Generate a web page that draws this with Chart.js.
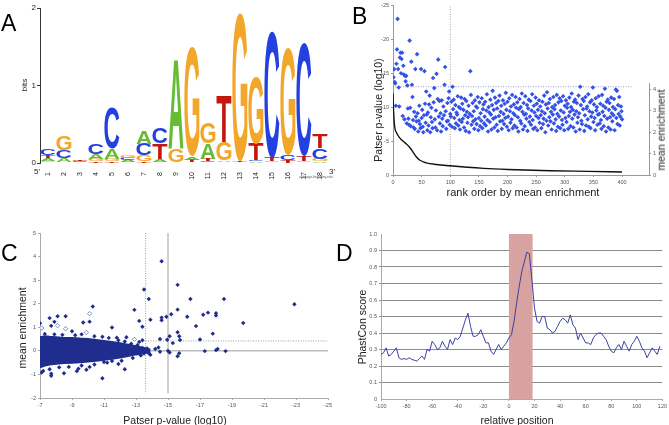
<!DOCTYPE html>
<html>
<head>
<meta charset="utf-8">
<script src="https://cdn.jsdelivr.net/npm/chart.js@4.4.1/dist/chart.umd.min.js"></script>
<style>
body { margin: 0; background: #fff; font-family: "Liberation Sans", Arial, sans-serif; }
#page { position: relative; width: 669px; height: 425px; overflow: hidden; background: #fff; }
canvas { position: absolute; }
.txt { position: absolute; white-space: nowrap; color: #222; line-height: 1; transform: translate(-50%, -50%); }
.rot { transform: translate(-50%, -50%) rotate(-90deg); }
.panel { position: absolute; font-size: 23px; line-height: 1; color: #000; }
</style>
</head>
<body>
<div id="page">
  <canvas id="chartA" width="345" height="190" style="left:0;top:0"></canvas>
  <canvas id="chartB" width="324" height="205" style="left:345px;top:0"></canvas>
  <canvas id="chartC" width="340" height="215" style="left:0;top:210px"></canvas>
  <canvas id="chartD" width="329" height="215" style="left:340px;top:210px"></canvas>

  <div class="panel" style="left:1px;top:12px">A</div>
  <div class="panel" style="left:352px;top:5px">B</div>
  <div class="panel" style="left:1px;top:242px">C</div>
  <div class="panel" style="left:336px;top:242px">D</div>

  <div class="txt rot" style="left:25px;top:85px;font-size:8px">bits</div>
  <div class="txt" style="left:37px;top:172px;font-size:8px">5'</div>
  <div class="txt" style="left:332px;top:172px;font-size:8px">3'</div>
  <div class="txt" style="left:316px;top:178px;font-size:3.5px;color:#666">weblogo.berkeley.edu</div>

  <div class="txt rot" style="left:378px;top:110px;font-size:10.5px">Patser p-value (log10)</div>
  <div class="txt" style="left:523px;top:192px;font-size:11px">rank order by mean enrichment</div>
  <div class="txt rot" style="left:661px;top:130px;font-size:10.5px">mean enrichment</div>

  <div class="txt rot" style="left:22px;top:328px;font-size:10.5px">mean enrichment</div>
  <div class="txt" style="left:175px;top:420px;font-size:10.5px">Patser p-value (log10)</div>

  <div class="txt rot" style="left:362px;top:327px;font-size:10.5px">PhastCon score</div>
  <div class="txt" style="left:517px;top:420px;font-size:10.5px">relative position</div>
</div>

<script>
// ---- A: motif logo, information content (bits) per letter and position
var logoPositions = ['1', '2', '3', '4', '5', '6', '7', '8', '9', '10', '11', '12', '13', '14', '15', '16', '17', '18'];
var bitsA = [0.04, 0.05, 0.01, 0.07, 0.13, 0.03, 0.17, 0.04, 1.16, 0.04, 0.20, 0.02, 0.01, 0.02, 0.00, 0.00, 0.01, 0.02];
var bitsC = [0.08, 0.10, 0.01, 0.13, 0.52, 0.03, 0.15, 0.21, 0.00, 0.01, 0.02, 0.01, 0.00, 0.02, 1.63, 0.06, 1.47, 0.14];
var bitsG = [0.02, 0.18, 0.01, 0.03, 0.03, 0.03, 0.08, 0.01, 0.18, 1.41, 0.27, 0.24, 1.90, 0.86, 0.02, 1.38, 0.02, 0.03];
var bitsT = [0.04, 0.01, 0.01, 0.02, 0.02, 0.01, 0.02, 0.20, 0.00, 0.03, 0.03, 0.60, 0.02, 0.21, 0.05, 0.04, 0.06, 0.18];

// ---- B: Patser p-value (log10) for ranks 1..400, and mean enrichment curve
var pValB = [
  -14.4, -15.6, -13.7, -13.5, -10.2, -16.4, -18.5, -23.0, -15.6, -12.9, -10.1, -17.3, -18.0, -15.0, -17.1, -18.0, -8.7, -16.1, -14.8, -8.2,
  -14.6, -13.8, -14.6, -7.6, -13.2, -9.8, -8.3, -7.4, -19.8, -9.9, -7.2, -16.7, -13.3, -11.5, -8.1, -7.0, -9.3, -6.8, -15.6, -8.6,
  -7.9, -17.8, -9.1, -6.4, -8.0, -10.2, -7.5, -6.9, -15.6, -8.4, -9.6, -7.1, -6.3, -8.8, -15.3, -10.5, -7.7, -12.3, -8.9, -6.6,
  -9.2, -7.3, -10.4, -11.7, -6.3, -8.5, -9.9, -7.8, -6.9, -14.3, -10.7, -12.8, -8.2, -7.0, -9.5, -14.9, -6.6, -11.2, -17.0, -8.6,
  -10.9, -7.6, -9.1, -6.4, -11.0, -8.3, -7.2, -10.1, -8.8, -13.3, -15.9, -9.4, -6.8, -7.9, -10.6, -8.0, -11.3, -12.3, -7.4, -9.0,
  -8.6, -10.8, -7.1, -13.0, -9.7, -11.1, -8.4, -6.9, -10.3, -7.6, -9.2, -8.9, -11.6, -7.3, -10.0, -8.1, -6.7, -9.8, -11.4, -7.8,
  -10.5, -8.3, -9.6, -7.0, -11.2, -8.8, -6.5, -10.9, -9.3, -7.7, -8.5, -10.2, -6.3, -9.0, -15.3, -11.8, -7.4, -8.7, -10.6, -7.9,
  -9.4, -6.8, -11.0, -8.2, -10.1, -7.5, -9.9, -11.5, -6.6, -8.4, -10.7, -7.2, -9.1, -8.0, -11.3, -6.9, -9.7, -10.4, -7.6, -8.6,
  -10.8, -7.3, -9.5, -11.9, -8.1, -6.4, -10.0, -9.2, -7.8, -11.1, -8.9, -6.7, -10.3, -12.4, -8.3, -9.6, -7.0, -11.4, -8.5, -10.6,
  -7.4, -9.8, -6.5, -10.9, -8.7, -11.7, -7.9, -9.3, -10.2, -6.8, -8.0, -11.0, -9.0, -7.5, -10.5, -8.4, -12.1, -9.6, -7.1, -10.8,
  -8.6, -6.6, -11.3, -9.4, -7.7, -10.1, -8.2, -11.8, -6.9, -9.1, -10.4, -7.3, -8.8, -11.5, -9.9, -7.0, -10.7, -8.5, -6.4, -9.7,
  -11.2, -8.0, -10.0, -7.6, -12.0, -9.3, -6.7, -10.6, -8.9, -7.2, -11.6, -9.0, -8.3, -10.3, -6.5, -9.8, -11.1, -7.8, -8.6, -10.9,
  -7.4, -9.5, -11.9, -8.1, -6.8, -10.2, -9.2, -7.0, -11.4, -8.7, -10.5, -6.6, -9.6, -8.4, -11.0, -7.7, -10.1, -8.8, -6.9, -9.4,
  -10.8, -7.5, -8.3, -11.7, -9.1, -6.3, -10.4, -8.0, -12.2, -9.8, -7.3, -10.6, -8.5, -11.2, -7.9, -9.3, -6.7, -10.0, -8.9, -11.5,
  -7.6, -9.7, -10.3, -8.2, -6.5, -11.8, -9.0, -7.1, -10.7, -8.6, -11.3, -6.9, -9.5, -10.9, -8.1, -7.4, -11.6, -9.2, -6.6, -10.2,
  -8.4, -11.0, -7.8, -9.9, -10.5, -6.8, -8.7, -11.4, -9.3, -7.2, -10.0, -12.0, -8.3, -9.6, -7.0, -10.8, -8.9, -11.1, -6.4, -9.4,
  -10.6, -7.7, -8.5, -11.7, -9.1, -6.7, -13.0, -10.3, -8.0, -7.5, -11.2, -9.7, -10.9, -6.5, -8.8, -11.5, -7.3, -9.8, -10.1, -8.2,
  -11.9, -7.1, -9.4, -10.7, -6.9, -8.6, -11.0, -9.2, -12.9, -7.8, -10.4, -8.4, -6.6, -11.3, -9.5, -10.0, -7.4, -8.9, -11.6, -9.0,
  -7.6, -10.5, -8.1, -6.8, -11.8, -9.3, -10.2, -7.2, -8.7, -12.7, -9.9, -6.4, -10.8, -8.3, -11.1, -7.0, -9.6, -10.6, -8.5, -6.7,
  -11.4, -9.1, -7.9, -10.0, -8.8, -11.2, -6.6, -9.7, -12.6, -8.4, -12.4, -7.5, -10.3, -9.0, -11.5, -7.3, -8.6, -10.1, -9.4, -8.2
];
var enrichRank = [0, 1, 3, 6, 12, 20, 29, 35, 41, 47, 58, 76, 99, 130, 158, 200, 275, 340, 400];
var enrichVal = [3.83, 3.0, 2.25, 1.99, 1.73, 1.53, 1.30, 1.07, 0.84, 0.69, 0.57, 0.49, 0.43, 0.36, 0.31, 0.26, 0.20, 0.17, 0.14];
var pCutB = -13;
var rankCutB = 100;

// ---- C: mean enrichment vs Patser p-value
var cloudX = [-7, -7.3, -7.6, -8, -8.5, -9, -9.5, -10, -10.5, -11, -11.5, -12, -12.5, -13, -13.5, -13.9];
var cloudTop = [0.58, 0.62, 0.6, 0.58, 0.55, 0.55, 0.52, 0.5, 0.46, 0.42, 0.38, 0.32, 0.26, 0.2, 0.12, 0.05];
var cloudBottom = [-0.7, -0.62, -0.58, -0.55, -0.52, -0.5, -0.48, -0.45, -0.42, -0.38, -0.34, -0.28, -0.22, -0.15, -0.1, -0.04];
var siteX = [
  -14.6, -15.6, -13.5, -13.8, -16.4, -18.5, -22.9, -10.3, -12.9, -15.6, -15.2, -14.9, -14.6, -14.6, -13.9, -13.2, -13.4, -16.2, -17.2, -17.5,
  -18.0, -18.0, -16.75, -19.7, -15.6, -17.8, -17.0, -15.75, -15.7, -15.1, -15.3, -14.95, -14.5, -13.4, -13.2, -13.7, -14.2, -13.5, -14.4, -14.5,
  -15.0, -15.1, -15.7, -15.6, -17.3, -18.0, -18.1, -18.6, -13.9, -13.6, -11.8, -12.4, -11.5, -9.7, -10.1, -7.0, -7.6, -8.1, -8.6, -7.9,
  -7.7, -9.0, -7.7, -7.7, -7.1, -8.5, -10.9, -12.3, -11.9, -9.9, -9.4, -9.3, -10.1, -11.0, -11.5,
  -7.3, -7.9, -8.4, -9.2, -9.6, -10.4, -10.9, -11.3, -11.9, -12.3, -12.7, -13.1, -13.4, -7.2, -7.6, -8.2, -8.8, -9.6, -10.4, -11.2,
  -12.1, -12.8, -13.3, -13.8, -12.6, -13.0, -12.9
];
var siteY = [
  3.8, 2.8, 2.6, 2.2, 2.2, 2.2, 1.98, 1.88, 1.74, 1.75, 1.55, 1.45, 1.41, 1.3, 1.32, 1.27, 1.02, 1.45, 1.53, 1.62,
  1.6, 1.5, 1.05, 1.18, 0.79, 0.73, 0.48, 0.46, 0.62, 0.62, 0.33, 0.47, 0.5, 0.45, 0.38, 0.1, 0.08, -0.11, 0.14, -0.04,
  0.0, -0.07, -0.1, -0.23, -0.01, 0.03, 0.08, -0.01, -0.17, 0.0, 0.56, 0.58, 0.99, 1.2, 1.24, 1.17, 1.39, 1.47, 1.47, 1.23,
  1.06, 0.83, -1.06, -0.97, -0.92, -0.95, -1.16, -0.78, -0.56, -0.8, -0.76, -0.86, -0.68, -0.47, -0.43,
  0.72, 0.7, 0.68, 0.66, 0.7, 0.62, 0.6, 0.55, 0.45, 0.4, 0.3, 0.25, 0.12, -0.85, -0.78, -0.7, -0.68, -0.62, -0.58, -0.5,
  -0.42, -0.3, -0.2, -0.1, 0.05, -0.05, 0.1
];
var openX = [-7.1, -8.1, -8.6, -10.1, -9.9, -12.9];
var openY = [0.97, 1.07, 0.94, 1.58, 0.78, 0.49];
var pCutC = [-13.6, -15.0];
var enrichCutC = 0.42;

// ---- D: PhastCon conservation around the motif
var posD = [
  -100, -98, -96, -94, -92, -90, -88, -86, -84, -82, -80, -78, -76, -74, -72, -70, -68, -66, -64, -62,
  -60, -58, -56, -54, -52, -50, -48, -46, -44, -42, -40, -38, -36, -34, -32, -30, -28, -26, -24, -22,
  -20, -18, -16, -14, -12, -10, -8, -6, -4, -2, 0, 2, 4, 6, 8, 10, 12, 14, 16, 18,
  20, 22, 24, 26, 28, 30, 32, 34, 36, 38, 40, 42, 44, 46, 48, 50, 52, 54, 56, 58,
  60, 62, 64, 66, 68, 70, 72, 74, 76, 78, 80, 82, 84, 86, 88, 90, 92, 94, 96, 98,
  100, 102, 104, 106, 108, 110, 112, 114, 116, 118
];
var phastD = [
  0.27, 0.28, 0.31, 0.26, 0.27, 0.29, 0.31, 0.25, 0.24, 0.245, 0.24, 0.25, 0.24, 0.235, 0.23, 0.245, 0.26, 0.24, 0.30, 0.29,
  0.35, 0.33, 0.30, 0.31, 0.35, 0.32, 0.30, 0.36, 0.33, 0.37, 0.36, 0.38, 0.43, 0.48, 0.52, 0.44, 0.38, 0.38, 0.39, 0.42,
  0.38, 0.34, 0.34, 0.29, 0.27, 0.30, 0.33, 0.30, 0.32, 0.34, 0.37, 0.39, 0.47, 0.58, 0.68, 0.77, 0.83, 0.89, 0.88, 0.72,
  0.55, 0.47, 0.46, 0.50, 0.50, 0.43, 0.42, 0.40, 0.41, 0.44, 0.47, 0.49, 0.48, 0.46, 0.51, 0.45, 0.43, 0.36, 0.40, 0.37,
  0.34, 0.34, 0.33, 0.37, 0.39, 0.40, 0.40, 0.38, 0.36, 0.32, 0.29, 0.28, 0.31, 0.33, 0.30, 0.35, 0.32, 0.29, 0.33, 0.35,
  0.38, 0.35, 0.31, 0.29, 0.25, 0.28, 0.31, 0.29, 0.27, 0.32
];
var motifBand = [0, 18.5];

var letterColors = { A: '#66bd35', C: '#2340e0', G: '#f2a72a', T: '#c3170f' };
var tickFont = { family: '"Liberation Sans", Arial, sans-serif', size: 5.5 };

function xy(xs, ys) {
  return xs.map(function (x, i) { return { x: x, y: ys[i] }; });
}

function fixWidth(w) {
  return function (scale) { scale.width = w; };
}

function fixHeight(h) {
  return function (scale) { scale.height = h; };
}

// Stretch one letter glyph into a box
function drawGlyph(ctx, ch, color, x, y, w, h) {
  ctx.save();
  ctx.font = 'bold 100px "Liberation Sans", Arial, sans-serif';
  ctx.textBaseline = 'alphabetic';
  ctx.textAlign = 'left';
  var m = ctx.measureText(ch);
  var gw = m.actualBoundingBoxLeft + m.actualBoundingBoxRight;
  var gh = m.actualBoundingBoxAscent + m.actualBoundingBoxDescent;
  ctx.translate(x, y);
  ctx.scale(w / gw, h / gh);
  ctx.fillStyle = color;
  ctx.fillText(ch, m.actualBoundingBoxLeft, m.actualBoundingBoxAscent);
  ctx.restore();
}

// Stack letters per column, smallest at the bottom
function buildLogoLayers() {
  var layers = [[], [], [], []];
  for (var i = 0; i < logoPositions.length; i++) {
    var col = [
      { l: 'A', v: bitsA[i] }, { l: 'C', v: bitsC[i] },
      { l: 'G', v: bitsG[i] }, { l: 'T', v: bitsT[i] }
    ].sort(function (a, b) { return a.v - b.v; });
    col.forEach(function (c, k) { layers[k].push(c); });
  }
  return layers.map(function (layer) {
    return {
      data: layer.map(function (c) { return c.v; }),
      letters: layer.map(function (c) { return c.l; }),
      backgroundColor: 'rgba(0,0,0,0)',
      borderWidth: 0,
      barPercentage: 1,
      categoryPercentage: 0.94
    };
  });
}

var logoLetters = {
  id: 'logoLetters',
  afterDatasetsDraw: function (chart) {
    var ctx = chart.ctx;
    chart.data.datasets.forEach(function (ds, di) {
      chart.getDatasetMeta(di).data.forEach(function (bar, i) {
        var h = bar.base - bar.y;
        if (h < 0.4) {
          return;
        }
        var ch = ds.letters[i];
        drawGlyph(ctx, ch, letterColors[ch], bar.x - bar.width / 2, bar.y, bar.width, h);
      });
    });
  }
};

// Short right axis line in B (only spans the enrichment range)
var rightAxisLine = {
  id: 'rightAxisLine',
  afterDraw: function (chart) {
    var s = chart.scales.y1, ctx = chart.ctx;
    ctx.save();
    ctx.strokeStyle = '#999';
    ctx.lineWidth = 1;
    ctx.beginPath();
    ctx.moveTo(chart.chartArea.right + 0.5, s.getPixelForValue(0));
    ctx.lineTo(chart.chartArea.right + 0.5, s.getPixelForValue(4.3));
    ctx.stroke();
    ctx.restore();
  }
};

// Motif region band in D
var bandPlugin = {
  id: 'band',
  beforeDatasetsDraw: function (chart) {
    var x = chart.scales.x, y = chart.scales.y, ctx = chart.ctx;
    var x0 = x.getPixelForValue(motifBand[0]);
    var x1 = x.getPixelForValue(motifBand[1]);
    var y0 = y.getPixelForValue(1);
    var y1 = y.getPixelForValue(0);
    ctx.save();
    ctx.fillStyle = '#d8a2a1';
    ctx.fillRect(x0, y0, x1 - x0, y1 - y0);
    ctx.restore();
  }
};

var common = {
  responsive: false,
  animation: false,
  devicePixelRatio: 1,
  plugins: { legend: { display: false }, tooltip: { enabled: false } }
};

function opts(extra) {
  return Object.assign({}, common, extra);
}

// A
new Chart(document.getElementById('chartA'), {
  type: 'bar',
  data: { labels: logoPositions, datasets: buildLogoLayers() },
  options: opts({
    layout: { padding: { top: 8, right: 17, left: 0, bottom: 0 } },
    scales: {
      x: {
        stacked: true,
        grid: { display: false },
        border: { display: false },
        ticks: { minRotation: 90, maxRotation: 90, padding: 1, color: '#222', font: { family: tickFont.family, size: 7 } },
        afterFit: fixHeight(27)
      },
      y: {
        stacked: true,
        min: 0,
        max: 2,
        grid: { drawOnChartArea: false, tickLength: 3, color: '#333' },
        border: { color: '#333' },
        ticks: { stepSize: 1, padding: 1, color: '#222', font: { family: tickFont.family, size: 8 } },
        afterFit: fixWidth(40)
      }
    }
  }),
  plugins: [logoLetters]
});

// B
new Chart(document.getElementById('chartB'), {
  type: 'scatter',
  data: {
    datasets: [
      {
        data: pValB.map(function (v, i) { return { x: i + 1, y: v }; }),
        yAxisID: 'y',
        pointStyle: 'rectRot',
        pointRadius: 2.3,
        backgroundColor: '#3552e4',
        borderWidth: 0
      },
      {
        data: xy(enrichRank, enrichVal),
        yAxisID: 'y1',
        showLine: true,
        pointRadius: 0,
        borderColor: '#111',
        borderWidth: 1.4,
        cubicInterpolationMode: 'monotone'
      },
      {
        data: [{ x: 0, y: pCutB }, { x: 418, y: pCutB }],
        yAxisID: 'y',
        showLine: true,
        pointRadius: 0,
        borderColor: '#8e9bd6',
        borderWidth: 1,
        borderDash: [1, 1.5]
      },
      {
        data: [{ x: rankCutB, y: 0 }, { x: rankCutB, y: -25 }],
        yAxisID: 'y',
        showLine: true,
        pointRadius: 0,
        borderColor: '#aaa',
        borderWidth: 1,
        borderDash: [1, 1.5]
      }
    ]
  },
  options: opts({
    layout: { padding: { top: 2, right: 0, left: 0, bottom: 0 } },
    scales: {
      x: {
        type: 'linear',
        min: 0,
        max: 447,
        grid: { drawOnChartArea: false, tickLength: 2, color: '#999' },
        border: { color: '#999' },
        ticks: { stepSize: 50, padding: 2, color: '#555', font: tickFont },
        afterBuildTicks: function (s) { s.ticks = s.ticks.filter(function (t) { return t.value <= 400; }); },
        afterFit: fixHeight(30)
      },
      y: {
        reverse: true,
        min: -25,
        max: 0,
        grid: { drawOnChartArea: false, tickLength: 2, color: '#999' },
        border: { color: '#999' },
        ticks: { stepSize: 5, padding: 2, color: '#555', font: tickFont },
        afterFit: fixWidth(48)
      },
      y1: {
        position: 'right',
        min: 0,
        max: 7.95,
        grid: { drawOnChartArea: false, tickLength: 2, color: '#999' },
        border: { display: false },
        ticks: { stepSize: 1, padding: 2, color: '#555', font: tickFont },
        afterBuildTicks: function (s) { s.ticks = s.ticks.filter(function (t) { return t.value <= 4; }); },
        afterFit: fixWidth(20)
      }
    }
  }),
  plugins: [rightAxisLine]
});

// C
new Chart(document.getElementById('chartC'), {
  type: 'scatter',
  data: {
    datasets: [
      {
        data: xy(siteX, siteY),
        pointStyle: 'rectRot',
        pointRadius: 2.2,
        backgroundColor: '#1e2d8e',
        borderWidth: 0
      },
      {
        data: xy(openX, openY),
        pointStyle: 'rectRot',
        pointRadius: 2.2,
        backgroundColor: '#fff',
        borderColor: '#7e8ac8',
        borderWidth: 1
      },
      {
        data: xy(cloudX, cloudTop),
        showLine: true,
        pointRadius: 0,
        borderColor: '#1e2d8e',
        borderWidth: 2,
        backgroundColor: '#1e2d8e',
        fill: '+1'
      },
      {
        data: xy(cloudX, cloudBottom),
        showLine: true,
        pointRadius: 0,
        borderColor: '#1e2d8e',
        borderWidth: 2
      },
      {
        data: [{ x: -7, y: 0 }, { x: -25, y: 0 }],
        showLine: true,
        pointRadius: 0,
        borderColor: '#999',
        borderWidth: 1
      },
      {
        data: [{ x: pCutC[0], y: enrichCutC }, { x: -25, y: enrichCutC }],
        showLine: true,
        pointRadius: 0,
        borderColor: '#999',
        borderWidth: 1,
        borderDash: [1, 1.5]
      },
      {
        data: [{ x: pCutC[0], y: 5 }, { x: pCutC[0], y: -1.8 }],
        showLine: true,
        pointRadius: 0,
        borderColor: '#999',
        borderWidth: 1,
        borderDash: [1, 1.5]
      },
      {
        data: [{ x: pCutC[1], y: 5 }, { x: pCutC[1], y: -1.8 }],
        showLine: true,
        pointRadius: 0,
        borderColor: '#c4c4c4',
        borderWidth: 0.8
      }
    ]
  },
  options: opts({
    layout: { padding: { top: 23, right: 12, left: 0, bottom: 0 } },
    scales: {
      x: {
        type: 'linear',
        reverse: true,
        min: -25,
        max: -7,
        grid: { drawOnChartArea: false, tickLength: 2, color: '#aaa' },
        border: { color: '#aaa' },
        ticks: { stepSize: 2, padding: 2, color: '#555', font: tickFont },
        afterFit: fixHeight(27)
      },
      y: {
        min: -2,
        max: 5,
        grid: { drawOnChartArea: false, tickLength: 2, color: '#aaa' },
        border: { color: '#aaa' },
        ticks: { stepSize: 1, padding: 2, color: '#555', font: tickFont },
        afterFit: fixWidth(40)
      }
    }
  })
});

// D
new Chart(document.getElementById('chartD'), {
  type: 'scatter',
  data: {
    datasets: [
      {
        data: xy(posD, phastD),
        showLine: true,
        pointRadius: 0,
        borderColor: '#3b40a0',
        borderWidth: 1
      }
    ]
  },
  options: opts({
    layout: { padding: { top: 24, right: 6, left: 0, bottom: 0 } },
    scales: {
      x: {
        type: 'linear',
        min: -100,
        max: 120,
        grid: { drawOnChartArea: false, tickLength: 2, color: '#aaa' },
        border: { color: '#aaa' },
        ticks: { stepSize: 20, padding: 2, color: '#555', font: tickFont },
        afterFit: fixHeight(26)
      },
      y: {
        min: 0,
        max: 1,
        grid: {
          color: function (c) { return c.tick && (c.tick.value === 1 || c.tick.value === 0) ? 'rgba(0,0,0,0)' : '#8c8c8c'; },
          tickLength: 2
        },
        border: { color: '#aaa' },
        ticks: { stepSize: 0.1, padding: 2, color: '#555', font: tickFont },
        afterFit: fixWidth(41)
      }
    }
  }),
  plugins: [bandPlugin]
});
</script>
</body>
</html>
